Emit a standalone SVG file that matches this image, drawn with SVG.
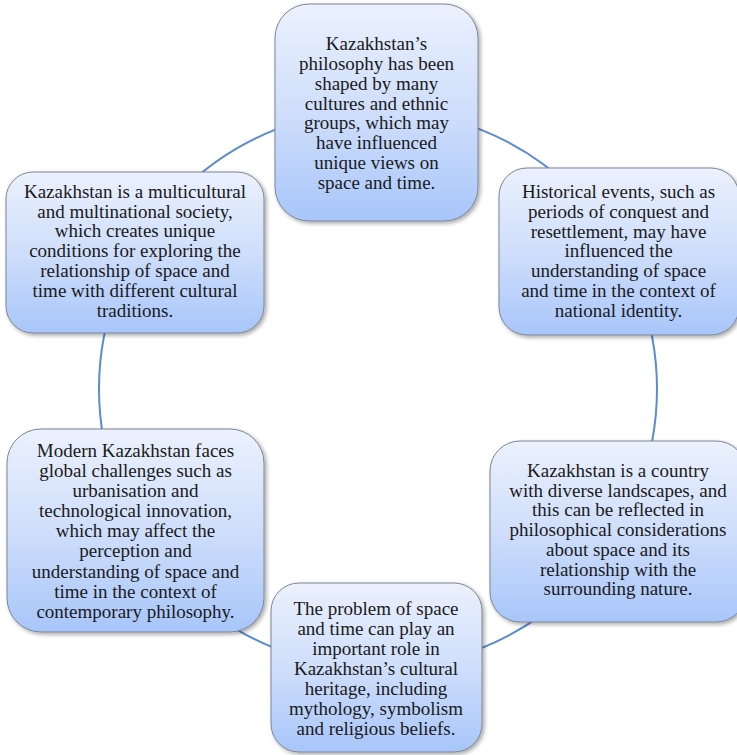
<svg xmlns="http://www.w3.org/2000/svg" width="737" height="755" viewBox="0 0 737 755">
<style>
.box{fill:url(#g);stroke:#7d8594;stroke-width:1;filter:url(#sh)}
.t{font-family:"Liberation Serif","Times New Roman",serif;font-size:19px;fill:#1a1a1a;text-anchor:middle}
.c{fill:none;stroke:#5a8ccf;stroke-width:2}
</style>
<defs>
<linearGradient id="g" x1="0" y1="0" x2="0" y2="1">
<stop offset="0" stop-color="#ebf1fd"/>
<stop offset="0.5" stop-color="#cfdefb"/>
<stop offset="1" stop-color="#a8c6fa"/>
</linearGradient>
<filter id="sh" x="-10%" y="-10%" width="130%" height="130%">
<feGaussianBlur in="SourceAlpha" stdDeviation="2"/>
<feOffset dx="2" dy="2" result="b"/>
<feComponentTransfer><feFuncA type="linear" slope="0.35"/></feComponentTransfer>
<feMerge><feMergeNode/><feMergeNode in="SourceGraphic"/></feMerge>
</filter>
</defs>
<rect width="737" height="755" fill="#ffffff"/>
<g id="connectors">
<circle class="c" cx="378" cy="389" r="279"/>
</g>
<g id="node1">
<rect class="box" x="275" y="4" width="203" height="217" rx="34"/>
<text class="t"><tspan x="376.5" y="50">Kazakhstan’s</tspan><tspan x="376.5" y="70">philosophy has been</tspan><tspan x="376.5" y="90">shaped by many</tspan><tspan x="376.5" y="110">cultures and ethnic</tspan><tspan x="376.5" y="129">groups, which may</tspan><tspan x="376.5" y="149">have influenced</tspan><tspan x="376.5" y="169">unique views on</tspan><tspan x="376.5" y="189">space and time.</tspan></text>
</g>
<g id="node2">
<rect class="box" x="499" y="168" width="240" height="167" rx="28"/>
<text class="t"><tspan x="618.5" y="198">Historical events, such as</tspan><tspan x="618.5" y="218">periods of conquest and</tspan><tspan x="618.5" y="238">resettlement, may have</tspan><tspan x="618.5" y="257">influenced the</tspan><tspan x="618.5" y="277">understanding of space</tspan><tspan x="618.5" y="297">and time in the context of</tspan><tspan x="618.5" y="317">national identity.</tspan></text>
</g>
<g id="node3">
<rect class="box" x="490" y="441" width="256" height="181" rx="30"/>
<text class="t"><tspan x="618" y="477">Kazakhstan is a country</tspan><tspan x="618" y="497">with diverse landscapes, and</tspan><tspan x="618" y="516">this can be reflected in</tspan><tspan x="618" y="536">philosophical considerations</tspan><tspan x="618" y="556">about space and its</tspan><tspan x="618" y="576">relationship with the</tspan><tspan x="618" y="595">surrounding nature.</tspan></text>
</g>
<g id="node4">
<rect class="box" x="271" y="583" width="211" height="169" rx="28"/>
<text class="t"><tspan x="376" y="615">The problem of space</tspan><tspan x="376" y="635">and time can play an</tspan><tspan x="376" y="655">important role in</tspan><tspan x="376" y="675">Kazakhstan’s cultural</tspan><tspan x="376" y="695">heritage, including</tspan><tspan x="376" y="715">mythology, symbolism</tspan><tspan x="376" y="735">and religious beliefs.</tspan></text>
</g>
<g id="node5">
<rect class="box" x="7" y="429" width="257" height="203" rx="34"/>
<text class="t"><tspan x="135.5" y="457">Modern Kazakhstan faces</tspan><tspan x="135.5" y="477">global challenges such as</tspan><tspan x="135.5" y="497">urbanisation and</tspan><tspan x="135.5" y="517">technological innovation,</tspan><tspan x="135.5" y="537">which may affect the</tspan><tspan x="135.5" y="557">perception and</tspan><tspan x="135.5" y="578">understanding of space and</tspan><tspan x="135.5" y="598">time in the context of</tspan><tspan x="135.5" y="618">contemporary philosophy.</tspan></text>
</g>
<g id="node6">
<rect class="box" x="6" y="172" width="258" height="161" rx="27"/>
<text class="t"><tspan x="135" y="198">Kazakhstan is a multicultural</tspan><tspan x="135" y="218">and multinational society,</tspan><tspan x="135" y="237">which creates unique</tspan><tspan x="135" y="257">conditions for exploring the</tspan><tspan x="135" y="277">relationship of space and</tspan><tspan x="135" y="297">time with different cultural</tspan><tspan x="135" y="317">traditions.</tspan></text>
</g>
</svg>
